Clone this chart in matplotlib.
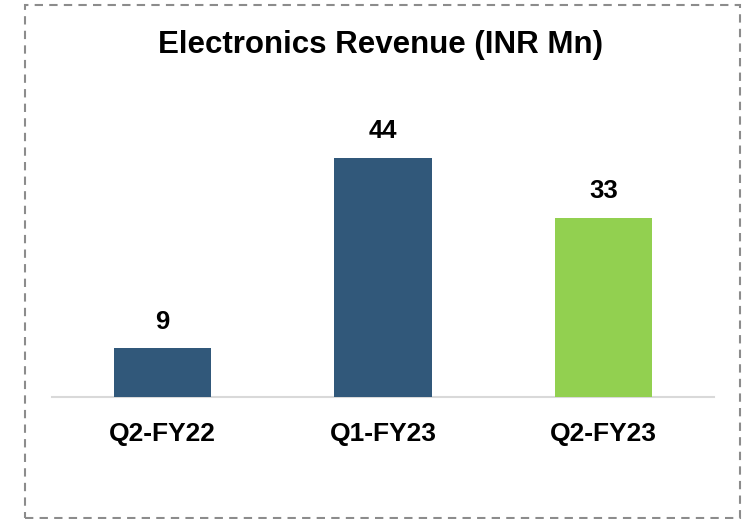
import matplotlib.pyplot as plt
from matplotlib.patches import Rectangle

plt.rcParams['font.family'] = ['Liberation Sans', 'DejaVu Sans']

# Data
quarters = ['Q2-FY22', 'Q1-FY23', 'Q2-FY23']
revenue = [9, 44, 33]
bar_colors = ['#31587A', '#31587A', '#92D050']
title = 'Electronics Revenue (INR Mn)'

fig = plt.figure(figsize=(7.44, 5.19), dpi=100)
ax = fig.add_axes([0.0699, 0.2351, 0.8898, 0.5723])

x = range(len(quarters))
bars = ax.bar(x, revenue, width=0.44, color=bar_colors, zorder=3)

for b, v in zip(bars, revenue):
    ax.annotate(str(v), (b.get_x() + b.get_width() / 2, v),
                xytext=(0, 10.5), textcoords='offset points',
                ha='center', va='bottom', fontsize=18.5, fontweight='bold')

ax.set_xlim(-0.5, 2.5)
ax.set_ylim(0, 54.7)
ax.set_xticks(list(x))
ax.set_xticklabels(quarters, fontsize=19, fontweight='bold')
ax.tick_params(axis='x', length=0, pad=18)
ax.set_yticks([])
for s in ['top', 'right', 'left']:
    ax.spines[s].set_visible(False)
ax.spines['bottom'].set_color('#D9D9D9')
ax.spines['bottom'].set_linewidth(1.5)

fig.text(0.512, 0.898, title, ha='center', va='baseline',
         fontsize=22.5, fontweight='bold')

# dashed frame around the chart
frame = Rectangle((25 / 744, 1 / 519), 715 / 744, 513 / 519,
                  transform=fig.transFigure, fill=False,
                  edgecolor='#8C8C8C', linewidth=1.5, linestyle=(0, (4, 3)))
fig.patches.append(frame)

fig.savefig('out.png', dpi=100)
